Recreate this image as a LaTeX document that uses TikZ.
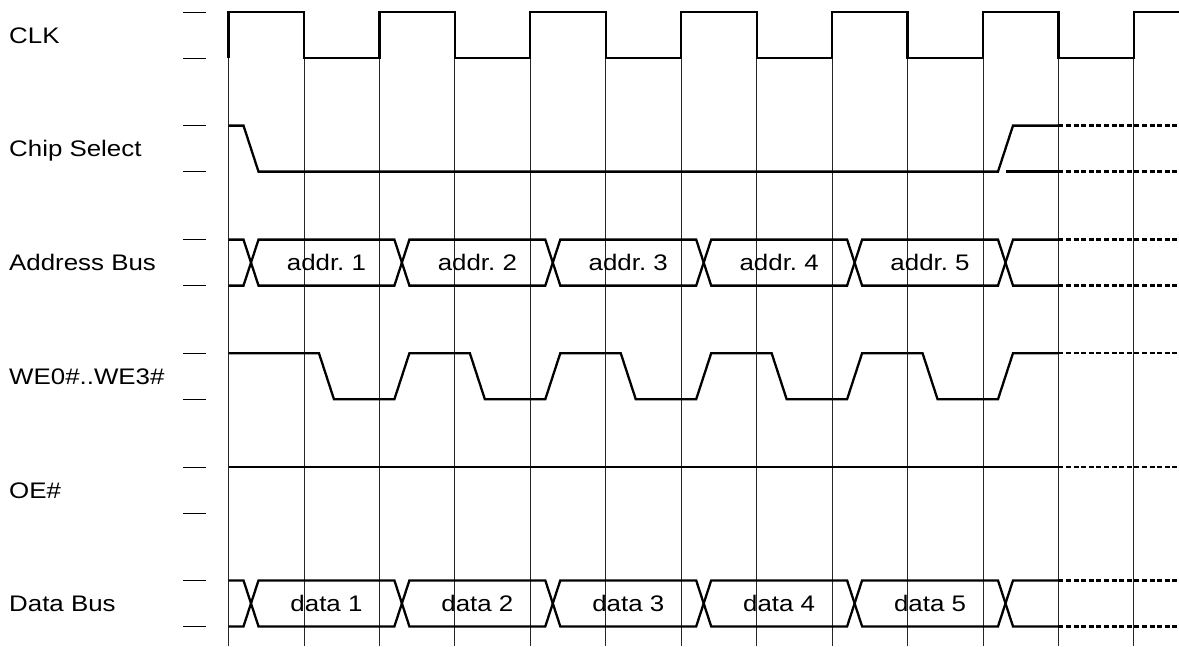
\documentclass[tikz,border=0pt]{standalone}
\usepackage{fontspec}
\setmainfont{Liberation Sans}
\newfontfamily\lab[FakeStretch=1.15]{Liberation Sans}
\begin{document}
\begin{tikzpicture}[x=1pt,y=-1pt,
  sig/.style={line width=2.3pt, line join=miter},
  gridline/.style={line width=0.9pt, black!85},
  tickmark/.style={line width=0.9pt},
  ext/.style={line width=2.3pt, dash pattern=on 5pt off 2.6pt},
  lbl/.style={anchor=base west, inner sep=0pt, font=\lab\fontsize{22.5}{24}\selectfont},
  blbl/.style={anchor=base, inner sep=0pt, font=\lab\fontsize{22.5}{24}\selectfont}]
\useasboundingbox (0,0) rectangle (1179,646);
\def\G#1{(228.5+75.45*(#1))}
\def\H{46}
% grid lines
\foreach \k in {0,...,12} \draw[gridline] ({\G{\k}},58) -- ({\G{\k}},646);
% rows: tops
\def\Tclk{12}
\def\Tcs{125.6}
\def\Tad{239.6}
\def\Twe{353.2}
\def\Toe{467}
\def\Tda{580.4}
% ticks
\foreach \t in {\Tclk,\Tcs,\Tad,\Twe,\Toe,\Tda} {
  \draw[tickmark] (183,\t) -- (206,\t);
  \draw[tickmark] (183,\t+\H) -- (206,\t+\H);
}
% labels
\node[lbl] (lclk) at (9,\Tclk+31.3) {CLK};
\node[lbl] (lcs) at (9,\Tcs+31.3) {Chip Select};
\node[lbl] (lad) at (9,\Tad+31.3) {Address Bus};
\node[lbl] (lwe) at (9,\Twe+31.3) {WE0\#..WE3\#};
\node[lbl] (loe) at (9,\Toe+31.3) {OE\#};
\node[lbl] (lda) at (9,\Tda+31.3) {Data Bus};
% CLK
\draw[sig] ({\G{0}},\Tclk+\H) \foreach \k in {0,2,...,10} {
  -- ({\G{\k}},\Tclk) -- ({\G{\k+1}},\Tclk) -- ({\G{\k+1}},\Tclk+\H) -- ({\G{\k+2}},\Tclk+\H) }
  -- ({\G{12}},\Tclk) -- (1179,\Tclk);
% Chip select
\draw[sig] ({\G{0}},\Tcs) -- ({\G{0}+15},\Tcs) -- ({\G{0}+30},\Tcs+\H) -- ({\G{10}+15},\Tcs+\H)
  -- ({\G{10}+30},\Tcs) -- ({\G{11}},\Tcs);
\draw[sig] ({\G{10}+23},\Tcs+\H) -- ({\G{11}},\Tcs+\H);
\draw[ext] ({\G{11}},\Tcs) -- (1179,\Tcs);
\draw[ext] ({\G{11}},\Tcs+\H) -- (1179,\Tcs+\H);
% buses
\foreach \T/\name in {\Tad/addr., \Tda/data} {
  \draw[sig] ({\G{0}},\T) -- ({\G{0}+15},\T) -- ({\G{0}+30},\T+\H) -- ({\G{2}+15},\T+\H)
    -- ({\G{2}+30},\T) -- ({\G{4}+15},\T) -- ({\G{4}+30},\T+\H) -- ({\G{6}+15},\T+\H)
    -- ({\G{6}+30},\T) -- ({\G{8}+15},\T) -- ({\G{8}+30},\T+\H) -- ({\G{10}+15},\T+\H)
    -- ({\G{10}+30},\T) -- ({\G{11}},\T);
  \draw[sig] ({\G{0}},\T+\H) -- ({\G{0}+15},\T+\H) -- ({\G{0}+30},\T) -- ({\G{2}+15},\T)
    -- ({\G{2}+30},\T+\H) -- ({\G{4}+15},\T+\H) -- ({\G{4}+30},\T) -- ({\G{6}+15},\T)
    -- ({\G{6}+30},\T+\H) -- ({\G{8}+15},\T+\H) -- ({\G{8}+30},\T) -- ({\G{10}+15},\T)
    -- ({\G{10}+30},\T+\H) -- ({\G{11}},\T+\H);
  \draw[ext] ({\G{11}},\T) -- (1179,\T);
  \draw[ext] ({\G{11}},\T+\H) -- (1179,\T+\H);
  \foreach \i in {1,...,5}
    \node[blbl] at ({\G{2*\i-1}+22.5},\T+31) {\name\ \i};
}
% WE
\draw[sig] ({\G{0}},\Twe) \foreach \k in {1,3,5,7,9} {
  -- ({\G{\k}+15},\Twe) -- ({\G{\k}+30},\Twe+\H) -- ({\G{\k+1}+15},\Twe+\H) -- ({\G{\k+1}+30},\Twe) }
  -- ({\G{11}},\Twe);
\draw[ext] ({\G{11}},\Twe) -- (1179,\Twe);
% OE
\draw[sig] ({\G{0}},\Toe) -- ({\G{11}},\Toe);
\draw[ext] ({\G{11}},\Toe) -- (1179,\Toe);
\end{tikzpicture}
\end{document}
